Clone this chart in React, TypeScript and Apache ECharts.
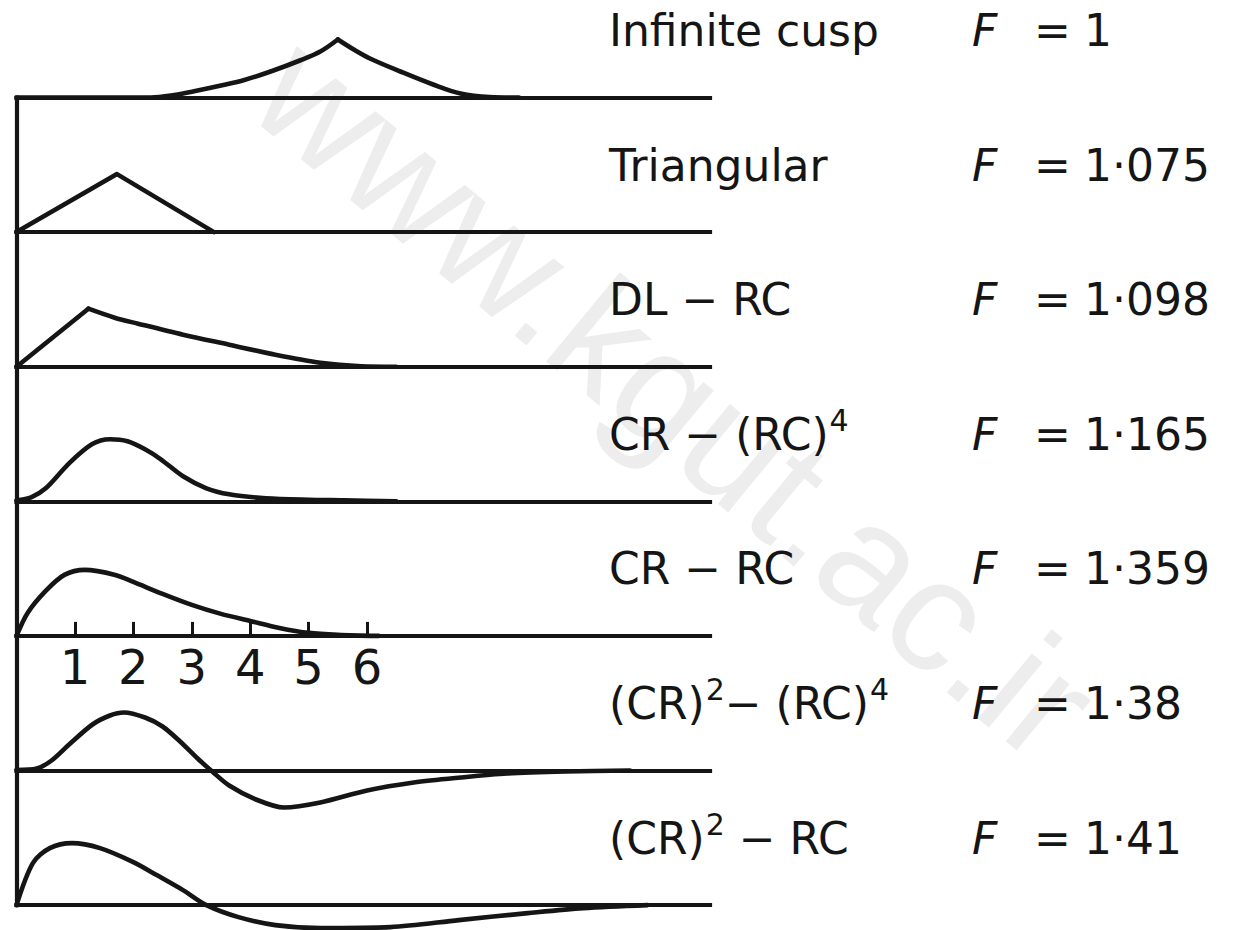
import React, { useEffect, useRef } from "react";
import * as echarts from "echarts";

// Time axis (in units of the tick spacing) and the labelled ticks on the CR − RC row
const TIME_MAX = 11.87;
const TICK_VALUES = [1, 2, 3, 4, 5, 6];

// Pulse names and their F factors, top to bottom
const PULSE_NAMES = [
  "Infinite cusp",
  "Triangular",
  "DL − RC",
  "CR − (RC){sup|4}",
  "CR − RC",
  "(CR){sup|2}− (RC){sup|4}",
  "(CR){sup|2} − RC",
];
const F_VALUES = ["1", "1·075", "1·098", "1·165", "1·359", "1·38", "1·41"];

// Pulse shapes: [time, amplitude]
const cuspRise = [[0, 0], [2.3, 0], [2.7, 2.5], [3.1, 7], [3.5, 12], [3.9, 17.5], [4.35, 26], [4.85, 37], [5.2, 46], [5.5, 58]];
const cuspFall = [[5.5, 58], [5.8, 47], [6.05, 39], [6.57, 26], [7.13, 13], [7.6, 4], [8.1, 0.5], [8.6, 0]];
const triangular = [[0, 0], [1.72, 58], [3.38, 0]];
const dlRcRise = [[0, 0], [1.23, 58]];
const dlRcFall = [[1.23, 58], [1.68, 49], [2.08, 43], [2.85, 32], [3.64, 22], [4.43, 12], [5.2, 4], [5.9, 0.5], [6.5, 0]];
const crRc4 = [[0, 1], [0.25, 4], [0.5, 13], [0.9, 38], [1.29, 57], [1.6, 62], [1.9, 60], [2.2, 52], [2.47, 42], [2.85, 25], [3.25, 13], [3.64, 7], [4.27, 3], [5.0, 1.5], [5.6, 1], [6.5, 0]];
const crRc = [[0, 0], [0.19, 23], [0.5, 45], [0.82, 61], [1.17, 66], [1.69, 61], [2.0, 54], [2.5, 42], [3.0, 31], [3.5, 22], [4.0, 15], [4.5, 8], [5.0, 3], [5.5, 1], [6.2, 0]];
const cr2Rc4 = [[0, 0.5], [0.35, 2], [0.6, 10], [0.9, 26], [1.3, 46], [1.6, 55], [1.84, 58], [2.2, 53], [2.5, 44], [2.8, 29], [3.1, 12], [3.35, -1], [3.64, -15], [4.1, -29], [4.58, -37], [5.2, -32], [6.0, -20], [6.8, -12], [7.6, -7], [8.4, -3], [9.4, -1], [10.5, 0]];
const cr2Rc = [[0, 0], [0.28, 42], [0.57, 57], [0.95, 62], [1.43, 57], [2.0, 43], [2.4, 30], [2.85, 15], [3.25, 0], [3.8, -12], [4.43, -20], [5.2, -23], [6.4, -22], [7.57, -15], [8.75, -8], [9.7, -3], [10.8, 0]];

// Each row: list of [segment, smooth] pieces drawn on that row's baseline
const ROW_SEGMENTS: [number[][], number | boolean][][] = [
  [[cuspRise, 0.35], [cuspFall, 0.35]],
  [[triangular, false]],
  [[dlRcRise, false], [dlRcFall, 0.3]],
  [[crRc4, 0.3]],
  [[crRc, 0.3]],
  [[cr2Rc4, 0.3]],
  [[cr2Rc, 0.3]],
];

const INK = "#151515";
const FONT = '"DejaVu Sans", sans-serif';

export default function App() {
  const ref = useRef<HTMLDivElement>(null);

  useEffect(() => {
    if (!ref.current) return;
    const chart = echarts.init(ref.current, null, { renderer: "svg" });

    const plotLeft = 16.5;
    const plotRight = 710;
    const firstBase = 97.5;
    const rowStep = 134.6;
    const baselines = PULSE_NAMES.map((_, i) => firstBase + rowStep * i);

    const grids: any[] = [];
    const xAxes: any[] = [];
    const yAxes: any[] = [];
    const series: any[] = [];

    baselines.forEach((base, i) => {
      const top = i === 0 ? 0 : baselines[i - 1];
      const height = base - top;
      grids.push({ left: plotLeft, width: plotRight - plotLeft, top, height, containLabel: false });
      const ticked = i === 4;
      xAxes.push({
        gridIndex: i,
        type: "value",
        min: 0,
        max: TIME_MAX,
        z: 5,
        axisLine: { show: true, onZero: false, lineStyle: { color: INK, width: 4.2, cap: "square" } },
        axisTick: ticked
          ? { show: true, inside: true, length: 14, customValues: TICK_VALUES, lineStyle: { color: INK, width: 3 } }
          : { show: false },
        axisLabel: ticked
          ? { show: true, customValues: TICK_VALUES, color: INK, fontSize: 48, fontFamily: FONT, margin: 7 }
          : { show: false },
        splitLine: { show: false },
      });
      yAxes.push({
        gridIndex: i,
        type: "value",
        min: 0,
        max: height,
        z: 5,
        axisLine: { show: i > 0, lineStyle: { color: INK, width: 4.2, cap: "square" } },
        axisTick: { show: false },
        axisLabel: { show: false },
        splitLine: { show: false },
      });
      ROW_SEGMENTS[i].forEach(([data, smooth]) => {
        series.push({
          type: "line",
          xAxisIndex: i,
          yAxisIndex: i,
          data,
          smooth,
          clip: false,
          symbol: "none",
          silent: true,
          z: 6,
          lineStyle: { color: INK, width: 4.6, cap: "round", join: "round" },
        });
      });
    });

    const graphics: any[] = [
      {
        type: "text",
        x: 676,
        y: 397,
        rotation: (-39.6 * Math.PI) / 180,
        z: -10,
        silent: true,
        style: {
          text: "www.kgut.ac.ir",
          font: '160px "Liberation Sans", sans-serif',
          fill: "#ededed",
          align: "center",
          verticalAlign: "middle",
        },
      },
    ];

    baselines.forEach((base, i) => {
      const cy = base - 67;
      graphics.push({
        type: "text",
        x: 609,
        y: cy,
        z: 10,
        style: {
          text: PULSE_NAMES[i],
          fill: INK,
          fontSize: 44,
          fontFamily: FONT,
          verticalAlign: "middle",
          rich: {
            sup: { fontSize: 30, fontFamily: FONT, fill: INK, padding: [0, 0, 28, 1] },
          },
        },
      });
      graphics.push({
        type: "text",
        x: 972,
        y: cy,
        z: 10,
        style: { text: "F", fill: INK, fontSize: 44, fontStyle: "italic", fontFamily: FONT, verticalAlign: "middle" },
      });
      graphics.push({
        type: "text",
        x: 1034,
        y: cy,
        z: 10,
        style: { text: "=", fill: INK, fontSize: 44, fontFamily: FONT, verticalAlign: "middle" },
      });
      graphics.push({
        type: "text",
        x: 1084,
        y: cy,
        z: 10,
        style: { text: F_VALUES[i], fill: INK, fontSize: 44, fontFamily: FONT, verticalAlign: "middle" },
      });
    });

    chart.setOption({
      animation: false,
      backgroundColor: "#ffffff",
      grid: grids,
      xAxis: xAxes,
      yAxis: yAxes,
      series,
      graphic: graphics,
    });

    return () => chart.dispose();
  }, []);

  return (
    <div
      ref={ref}
      style={{ position: "fixed", left: 0, top: 0, width: 1234, height: 930, background: "#fff" }}
    />
  );
}
